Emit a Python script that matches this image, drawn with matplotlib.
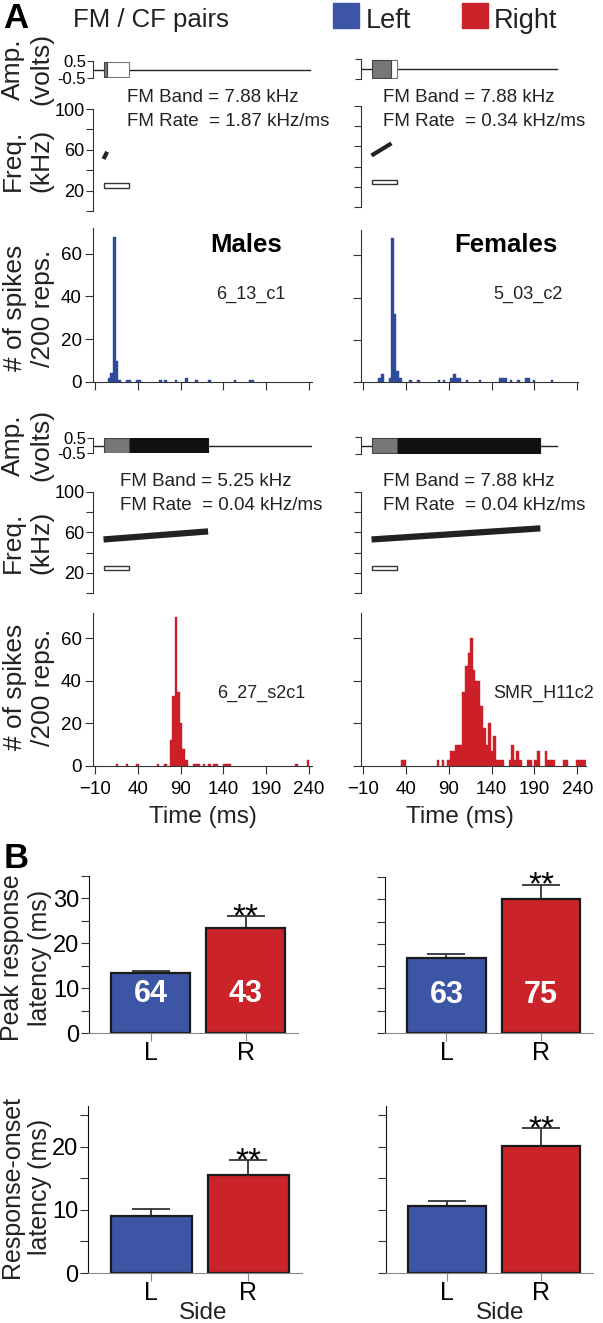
import numpy as np
import matplotlib.pyplot as plt

plt.rcParams['font.family'] = ['Liberation Sans', 'DejaVu Sans']

# ---- stimulus parameters (male row1, female row1, male row2, female row2)
fm_dur = [4.2, 23.2, 122, 197]          # ms
cf_dur = [30, 30, 30, 30]               # ms
fm_f0 = [51, 51, 53, 53]                # kHz
fm_f1 = [58, 63, 61, 64]                # kHz
cf_khz = [25, 25, 25, 25]
trace_end = [241, 216, 243, 216]
fm_band = ['7.88', '7.88', '5.25', '7.88']
fm_rate = ['1.87', '0.34', '0.04', '0.04']

# ---- PSTHs, 3 ms bins (left edge, count)
m_left_t = [5, 8, 11, 14, 17, 26, 29, 38, 41, 65, 71, 83, 95, 107, 122, 152, 170, 173]
m_left_n = [2, 4, 68, 10, 1, 1, 1, 1, 1, 1, 1, 1, 2, 1, 1, 1, 1, 1]

f_left_t = [8, 11, 20, 23, 26, 29, 32, 44, 53, 77, 83, 92, 95, 98, 101, 110, 125,
            149, 152, 155, 161, 170, 179, 182, 188, 209]
f_left_n = [2, 4, 2, 68, 32, 5, 2, 1, 1, 1, 1, 2, 4, 2, 2, 1, 1,
            2, 2, 2, 1, 1, 2, 2, 1, 1]

m_right_t = [14, 26, 38, 62, 71, 77, 80, 83, 86, 89, 92, 95, 104, 107, 110, 116, 122,
             128, 131, 140, 143, 146, 224, 237]
m_right_n = [1, 1, 1, 1, 1, 12, 33, 70, 35, 20, 8, 3, 1, 1, 1, 1, 1,
             1, 1, 1, 1, 1, 1, 3]

f_right_t = [34, 37, 76, 82, 88, 91, 94, 97, 100, 103, 106, 109, 112, 115, 118, 121,
             124, 127, 130, 133, 136, 139, 142, 145, 148, 151, 160, 163, 166, 169,
             172, 181, 184, 190, 193, 202, 205, 208, 211, 223, 226, 238, 241, 244, 247]
f_right_n = [3, 3, 3, 3, 3, 7, 7, 10, 10, 10, 35, 47, 53, 60, 45, 40,
             40, 28, 18, 10, 20, 7, 14, 3, 3, 3, 3, 10, 3, 7,
             3, 3, 3, 3, 7, 7, 3, 3, 3, 3, 3, 3, 3, 3, 3]

time_ticks = [-10, 40, 90, 140, 190, 240]

# ---- latency bars (L, R)
sides = ['L', 'R']
peak_m = [13.4, 23.4]
peak_m_err = [0.4, 2.6]
peak_f = [16.8, 30.0]
peak_f_err = [1.0, 3.2]
onset_m = [9.0, 15.6]
onset_m_err = [1.2, 2.3]
onset_f = [10.6, 20.2]
onset_f_err = [0.8, 2.8]
n_m = ['64', '43']
n_f = ['63', '75']

BLUE_H = '#2f4b9c'
RED_H = '#cc1f27'
BLUE = '#3c56a5'
RED = '#cb232a'
AX = '#333333'
PX_PER_MS = 0.857

W, H = 603, 1323
fig = plt.figure(figsize=(W / 100, H / 100), dpi=100)


def px_axes(x0, y0, x1, y1):
    ax = fig.add_axes([x0 / W, 1 - y1 / H, (x1 - x0) / W, (y1 - y0) / H])
    ax.patch.set_alpha(0)
    for s in ['top', 'right']:
        ax.spines[s].set_visible(False)
    return ax


def ftext(x, y, s, **kw):
    return fig.text(x / W, 1 - y / H, s, **kw)


def amp_panel(box, i, labels):
    ax = px_axes(*box)
    ax.set_xlim(-12.3, -12.3 + (box[2] - box[0]) / PX_PER_MS)
    ax.set_ylim(-0.5, 0.5)
    ax.plot([-12.3, trace_end[i]], [0, 0], color='#222', lw=1, zorder=1)
    both = min(fm_dur[i], cf_dur[i])
    ax.barh(0, both, left=0, height=0.94, color='#777', edgecolor='#444', lw=0.8, zorder=3)
    if cf_dur[i] > fm_dur[i]:
        ax.barh(0, cf_dur[i] - fm_dur[i], left=fm_dur[i], height=0.94, color='white',
                edgecolor='#777', lw=0.8, zorder=2)
    else:
        ax.barh(0, fm_dur[i] - cf_dur[i], left=cf_dur[i], height=0.94, color='#111',
                edgecolor='#111', lw=0.8, zorder=2)
    ax.spines['bottom'].set_visible(False)
    ax.spines['left'].set_color(AX)
    ax.set_xticks([])
    ax.set_yticks([0.5, -0.5])
    ax.set_yticklabels(['0.5', '-0.5'] if labels else [])
    ax.tick_params(axis='y', length=4, color=AX, labelsize=12, pad=1)
    return ax


def freq_panel(box, i, labels, lw):
    ax = px_axes(*box)
    ax.set_xlim(-12.3, -12.3 + (box[2] - box[0]) / PX_PER_MS)
    ax.set_ylim(0, 100)
    ax.plot([0, fm_dur[i]], [fm_f0[i], fm_f1[i]], color='#222', lw=lw,
            solid_capstyle='butt')
    ax.barh(cf_khz[i], cf_dur[i], left=0, height=4, color='white', edgecolor='#333', lw=1)
    ax.spines['bottom'].set_visible(False)
    ax.spines['left'].set_color(AX)
    ax.set_xticks([])
    ax.set_yticks([0, 20, 40, 60, 80, 100])
    ax.set_yticklabels(['', '20', '', '60', '', '100'] if labels else [])
    ax.tick_params(axis='y', length=5, color=AX, labelsize=13, pad=1)
    return ax


def hist_panel(box, t, n, color, xmax, ylabels, xlabels):
    ax = px_axes(*box)
    ax.bar(t, n, width=3, align='edge', color=color, lw=0.3, edgecolor=color)
    ax.set_xlim(-12.3, xmax)
    ax.set_ylim(0, 72)
    ax.set_xticks(time_ticks)
    ax.set_yticks([0, 20, 40, 60])
    if not xlabels:
        ax.set_xticklabels([])
    if not ylabels:
        ax.set_yticklabels([])
    for s in ['left', 'bottom']:
        ax.spines[s].set_color(AX)
    ax.tick_params(length=6, color=AX, labelsize=13.5)
    ax.tick_params(axis='y', pad=2)
    ax.tick_params(axis='x', pad=5)
    return ax


def bar_panel(box, vals, errs, ns, ymax, yticks, ylabs):
    ax = px_axes(*box)
    x = np.arange(len(sides))
    ax.bar(x, vals, width=0.83, color=[BLUE, RED], edgecolor='#1a1a1a', lw=1.6, zorder=2)
    ax.errorbar(x, vals, yerr=[[0, 0], errs], fmt='none', ecolor='#333', elinewidth=1.3,
                capsize=14, capthick=1.3, zorder=1)
    ax.annotate('**', xy=(1, vals[1] + errs[1]), xytext=(0, -7), textcoords='offset points',
                ha='center', va='baseline', fontsize=24, annotation_clip=False)
    if ns is not None:
        for xi, s in zip(x, ns):
            ax.text(xi, 8.6, s, color='white', fontweight='bold', fontsize=22,
                    ha='center', va='center', zorder=3)
    ax.set_xlim(-0.65, 1.55)
    ax.set_ylim(0, ymax)
    ax.set_xticks(x)
    ax.set_xticklabels(sides)
    ax.set_yticks(yticks)
    ax.set_yticklabels(ylabs)
    ax.spines['left'].set_color('#111')
    ax.spines['bottom'].set_color('#888')
    ax.tick_params(axis='y', length=6, color='#333', labelsize=17, pad=1)
    ax.tick_params(axis='x', length=6, color='#888', labelsize=18, pad=0)
    return ax


# ---------------- panel A
amp_panel((93, 61, 312, 78), 0, True)
amp_panel((361, 59, 578, 79), 1, False)
freq_panel((93, 109, 312, 211), 0, True, 3)
freq_panel((361, 106, 578, 207), 1, False, 3)
hist_panel((93, 228, 312, 382), m_left_t, m_left_n, BLUE_H, 243.3, True, False)
hist_panel((361, 230, 578, 382), f_left_t, f_left_n, BLUE_H, 240.9, False, False)

amp_panel((93, 438, 312, 453), 2, True)
amp_panel((361, 437, 578, 454), 3, False)
freq_panel((93, 492, 312, 593), 2, True, 4.5)
freq_panel((361, 492, 578, 593), 3, False, 4.5)
hist_panel((93, 613, 312, 766), m_right_t, m_right_n, RED_H, 243.3, True, True)
hist_panel((361, 613, 586, 766), f_right_t, f_right_n, RED_H, 250.2, False, True)

# FM text
fm_pos = [(127, 102), (383, 102), (120, 486), (383, 486)]
for i, (x, y) in enumerate(fm_pos):
    ftext(x, y, 'FM Band = %s kHz' % fm_band[i], fontsize=13.5, va='baseline', color='#222')
    ftext(x, y + 23.5, 'FM Rate  = %s kHz/ms' % fm_rate[i], fontsize=13.5, va='baseline',
          color='#222')

ftext(16, 19, 'A', fontsize=25, fontweight='bold', ha='center', va='center')
ftext(73, 27, 'FM / CF pairs', fontsize=18.5, va='baseline', color='#222')
fig.patches.append(plt.Rectangle((333 / W, 1 - 28 / H), 26 / W, 25 / H, color=BLUE,
                                 transform=fig.transFigure, figure=fig))
fig.patches.append(plt.Rectangle((462 / W, 1 - 28 / H), 26 / W, 25 / H, color=RED,
                                 transform=fig.transFigure, figure=fig))
ftext(366, 28, 'Left', fontsize=19.5, va='baseline', color='#222')
ftext(494, 28, 'Right', fontsize=19.5, va='baseline', color='#222')

ftext(246, 252, 'Males', fontsize=18.5, fontweight='bold', ha='center', va='baseline')
ftext(506, 252, 'Females', fontsize=18.5, fontweight='bold', ha='center', va='baseline')
ftext(251, 299, '6_13_c1', fontsize=13, ha='center', va='baseline', color='#222')
ftext(528, 299, '5_03_c2', fontsize=13, ha='center', va='baseline', color='#222')
ftext(261, 698, '6_27_s2c1', fontsize=13, ha='center', va='baseline', color='#222')
ftext(544, 698, 'SMR_H11c2', fontsize=13, ha='center', va='baseline', color='#222')

ylab = dict(rotation=90, ha='center', va='center', multialignment='center', color='#222')
ftext(27, 69, 'Amp.\n(volts)', fontsize=19, **ylab)
ftext(27, 160, 'Freq.\n(kHz)', fontsize=19, **ylab)
ftext(29, 308, '# of spikes\n/200 reps.', fontsize=19, **ylab)
ftext(27, 445, 'Amp.\n(volts)', fontsize=19, **ylab)
ftext(27, 542, 'Freq.\n(kHz)', fontsize=19, **ylab)
ftext(29, 687, '# of spikes\n/200 reps.', fontsize=19, **ylab)
ftext(203, 817, 'Time (ms)', fontsize=17.5, ha='center', va='center', color='#222')
ftext(460, 817, 'Time (ms)', fontsize=17.5, ha='center', va='center', color='#222')

# ---------------- panel B
ftext(16, 858, 'B', fontsize=25, fontweight='bold', ha='center', va='center')
bar_panel((89, 876, 298, 1033), peak_m, peak_m_err, n_m, 35,
          [0, 5, 10, 15, 20, 25, 30, 35], ['0', '', '10', '', '20', '', '30', ''])
bar_panel((385, 877, 593, 1033), peak_f, peak_f_err, n_f, 35,
          [0, 5, 10, 15, 20, 25, 30, 35], [''] * 8)
bar_panel((88, 1106, 302, 1273), onset_m, onset_m_err, None, 26.5,
          [0, 5, 10, 15, 20, 25], ['0', '', '10', '', '20', ''])
bar_panel((386, 1106, 593, 1273), onset_f, onset_f_err, None, 26.5,
          [0, 5, 10, 15, 20, 25], [''] * 6)
ftext(26, 958, 'Peak response\nlatency (ms)', fontsize=18, **ylab)
ftext(26, 1187, 'Response-onset\nlatency (ms)', fontsize=18, **ylab)
ftext(203, 1313, 'Side', fontsize=17.5, ha='center', va='center', color='#222')
ftext(500, 1313, 'Side', fontsize=17.5, ha='center', va='center', color='#222')

fig.savefig('out.png', dpi=100)
